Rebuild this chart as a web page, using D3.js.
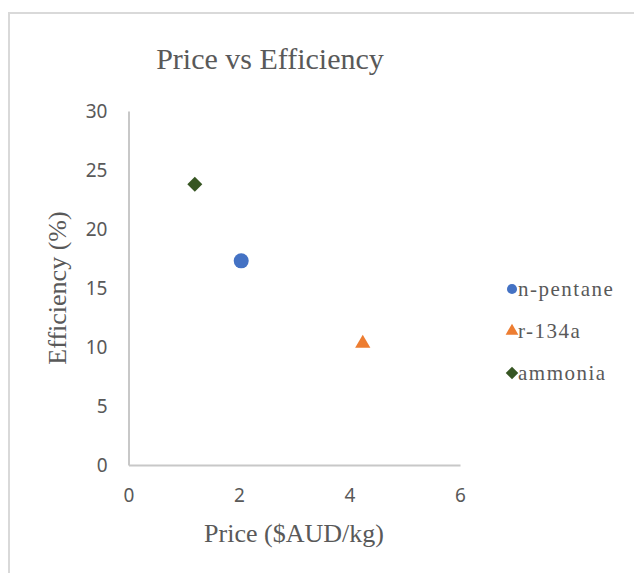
<!DOCTYPE html>
<html><head><meta charset="utf-8">
<script src="https://cdn.jsdelivr.net/npm/d3@7"></script>
<style>
html,body{margin:0;padding:0;background:#fff;}
svg{display:block;}
</style></head>
<body>
<script>
const seriesNames = ["n-pentane", "r-134a", "ammonia"];
const priceValues = [2.04, 4.24, 1.2];
const efficiencyValues = [17.3, 10.3, 23.8];
const seriesColors = ["#4472C4", "#ED7D31", "#375623"];
const seriesShapes = ["circle", "triangle", "diamond"];
const xTicks = [0, 2, 4, 6];
const yTicks = [0, 5, 10, 15, 20, 25, 30];

const W = 634, H = 573;
const svg = d3.select("body").append("svg").attr("width", W).attr("height", H);

// outer chart frame (only top and left visible)
svg.append("line").attr("x1", 9).attr("x2", W).attr("y1", 13).attr("y2", 13)
  .attr("stroke", "#d9d9d9").attr("stroke-width", 2);
svg.append("line").attr("x1", 9).attr("x2", 9).attr("y1", 12).attr("y2", H)
  .attr("stroke", "#d9d9d9").attr("stroke-width", 2);

const x = d3.scaleLinear().domain([0, 6]).range([128.5, 460]);
const y = d3.scaleLinear().domain([0, 30]).range([465, 111]);

const tickFont = "'Noto Sans', 'Open Sans', sans-serif";
const serif = "'Liberation Serif', 'Times New Roman', serif";

// axes
const xAxis = svg.append("g").attr("transform", `translate(0,${y(0)})`)
  .call(d3.axisBottom(x).tickValues(xTicks).tickSize(0).tickPadding(24).tickFormat(d3.format("d")));
xAxis.select(".domain").attr("stroke", "#c8c8c8").attr("stroke-width", 2);
xAxis.selectAll("text").attr("font-family", tickFont).attr("font-size", 19).attr("fill", "#595959");

const yAxis = svg.append("g").attr("transform", `translate(${x(0)},0)`)
  .call(d3.axisLeft(y).tickValues(yTicks).tickSize(0).tickPadding(21).tickFormat(d3.format("d")));
yAxis.select(".domain").attr("stroke", "#c8c8c8").attr("stroke-width", 2);
yAxis.selectAll("text").attr("font-family", tickFont).attr("font-size", 19).attr("fill", "#595959");

// title
svg.append("text").attr("x", 270).attr("y", 69).attr("text-anchor", "middle")
  .attr("font-family", serif).attr("font-size", 30).attr("fill", "#595959")
  .text("Price vs Efficiency");

// axis titles
svg.append("text").attr("x", 294).attr("y", 542).attr("text-anchor", "middle")
  .attr("font-family", serif).attr("font-size", 26).attr("fill", "#595959")
  .text("Price ($AUD/kg)");
svg.append("text").attr("transform", `translate(66,${(y(0)+y(30))/2}) rotate(-90)`)
  .attr("text-anchor", "middle")
  .attr("font-family", serif).attr("font-size", 26).attr("fill", "#595959")
  .text("Efficiency (%)");

function symbolPath(shape, scale) {
  if (shape === "circle") return d3.symbol(d3.symbolCircle, 177 * scale)();
  if (shape === "triangle") return d3.symbol(d3.symbolTriangle, 100 * scale)();
  return d3.symbol(d3.symbolSquare, 112 * scale)();
}

const data = seriesNames.map((n, i) => ({name: n, px: priceValues[i], eff: efficiencyValues[i], color: seriesColors[i], shape: seriesShapes[i]}));

svg.append("g").selectAll("path").data(data).join("path")
  .attr("d", d => symbolPath(d.shape, 1))
  .attr("transform", d => `translate(${x(d.px)},${y(d.eff)})` + (d.shape === "diamond" ? " rotate(45)" : ""))
  .attr("fill", d => d.color);

// legend
const leg = svg.append("g").selectAll("g").data(data).join("g")
  .attr("transform", (d, i) => `translate(512,${289 + i * 42})`);
leg.append("path")
  .attr("d", d => symbolPath(d.shape, d.shape === "circle" ? 0.45 : 0.7))
  .attr("transform", d => d.shape === "diamond" ? "rotate(45)" : null)
  .attr("fill", d => d.color);
leg.append("text").attr("x", 6).attr("y", 7)
  .attr("font-family", serif).attr("font-size", 21).attr("letter-spacing", 1.5).attr("fill", "#595959")
  .text(d => d.name);
</script>
</body></html>
